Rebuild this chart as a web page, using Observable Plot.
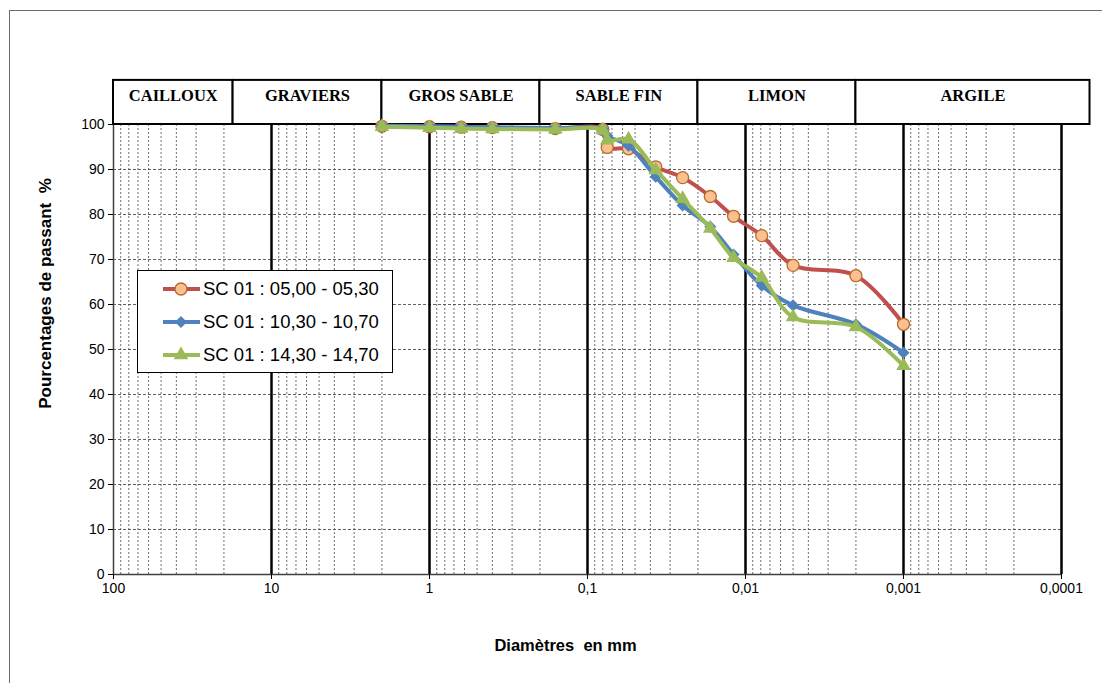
<!DOCTYPE html>
<html>
<head>
<meta charset="utf-8">
<script src="https://cdn.jsdelivr.net/npm/d3@7"></script>
<script src="https://cdn.jsdelivr.net/npm/@observablehq/plot@0.6"></script>
<style>
  body { margin: 0; background: #fff; }
  #wrap { position: relative; width: 1102px; height: 683px; overflow: hidden; background: #fff; }
  #frame { position: absolute; left: 9px; top: 10px; width: 1200px; height: 800px; border: 1px solid #6d6d6d; }
  #chart { position: absolute; left: 0; top: 0; }
  #legend { position: absolute; left: 137px; top: 270px; }
</style>
</head>
<body>
<div id="wrap">
  <div id="frame"></div>
  <div id="chart"></div>
  <div id="legend"></div>
</div>
<script>
// Grain diameters (mm): sieve sizes followed by sedimentometry readings
const diametersMm = [2, 1, 0.63, 0.4, 0.16, 0.08, 0.075, 0.055, 0.037, 0.025, 0.0167, 0.0119, 0.0079, 0.005, 0.002, 0.001];

// Percent passing for each sample depth
const seriesNames = ["SC 01 : 05,00 - 05,30", "SC 01 : 10,30 - 10,70", "SC 01 : 14,30 - 14,70"];
const passing0500 = [99.6, 99.5, 99.4, 99.3, 99.1, 98.9, 94.9, 94.6, 90.6, 88.2, 84.0, 79.6, 75.3, 68.7, 66.4, 55.6];
const passing1030 = [99.7, 99.6, 99.5, 99.4, 99.2, 99.0, 97.5, 95.3, 88.4, 82.0, 77.3, 71.1, 64.2, 59.8, 55.6, 49.3];
const passing1430 = [99.5, 99.3, 99.1, 99.0, 98.9, 98.8, 96.5, 96.7, 89.9, 83.5, 76.9, 70.4, 66.0, 57.2, 55.0, 46.4];

// Soil classes and their diameter limits (mm)
const classNames = ["CAILLOUX", "GRAVIERS", "GROS SABLE", "SABLE FIN", "LIMON", "ARGILE"];
const classLimits = [100, 17.5, 2, 0.2, 0.02, 0.002, 0.000066];

// Axis ticks
const xTickValues = [100, 10, 1, 0.1, 0.01, 0.001, 0.0001];
const yTickValues = [0, 10, 20, 30, 40, 50, 60, 70, 80, 90, 100];

const styles = [
  {line: "#C0504D", fill: "#FAC090", stroke: "#B8692B", symbol: "circle", r: 6},
  {line: "#4F81BD", fill: "#4F81BD", stroke: "#4F81BD", symbol: "diamond2", r: 4.6},
  {line: "#9BBB59", fill: "#9BBB59", stroke: "#9BBB59", symbol: "triangle", r: 4.6}
];
const passingSets = [passing0500, passing1030, passing1430];

const rows = passingSets.map((vals, i) => diametersMm.map((d, j) => ({d, p: vals[j], s: seriesNames[i]})));

const classes = classNames.map((name, i) => ({
  name, a: classLimits[i], b: classLimits[i + 1], mid: Math.sqrt(classLimits[i] * classLimits[i + 1])
}));

// Minor log gridlines: 2..9 within each decade
const minorTicks = [];
for (const dec of [10, 1, 0.1, 0.01, 0.001, 0.0001]) for (let k = 2; k <= 9; k++) minorTicks.push(+(k * dec).toPrecision(3));
const decadeLines = xTickValues.slice(1);

const HEADER_TOP = 109.8;
const HEADER_TEXT = 106.4;

const fmt = d => String(d).replace(".", ",");

const seriesMarks = rows.flatMap((data, i) => [
  Plot.line(data, {x: "d", y: "p", stroke: styles[i].line, strokeWidth: 4, curve: "catmull-rom", strokeLinejoin: "round", strokeLinecap: "round"}),
  Plot.dot(data, {x: "d", y: "p", symbol: () => styles[i].symbol, r: styles[i].r, fill: styles[i].fill, stroke: styles[i].stroke, strokeWidth: 1.3})
]);

const chart = Plot.plot({
  width: 1102,
  height: 683,
  marginLeft: 113,
  marginRight: 41,
  marginTop: 124,
  marginBottom: 109,
  style: {fontFamily: "'Liberation Sans', Arial, sans-serif", fontSize: "14px", color: "#000", background: "transparent", overflow: "visible"},
  x: {type: "log", domain: [100, 0.0001]},
  y: {domain: [0, 100]},
  marks: [
    Plot.ruleY(yTickValues.slice(1, -1), {stroke: "#3a3a3a", strokeWidth: 0.8, strokeDasharray: "3,2"}),
    Plot.ruleX(minorTicks, {y1: 0, y2: 100, stroke: "#4a4a4a", strokeWidth: 0.8, strokeDasharray: "2,2"}),
    Plot.ruleX(decadeLines, {y1: 0, y2: 100, stroke: "#000", strokeWidth: 2.5}),
    Plot.ruleX([100], {y1: 0, y2: 100, stroke: "#404040", strokeWidth: 1.5}),
    Plot.ruleY([0], {stroke: "#404040", strokeWidth: 1.5}),
    Plot.axisX({ticks: xTickValues, tickFormat: fmt, tickSize: 5, tickPadding: 4, label: null, fontSize: 14}),
    Plot.axisY({ticks: yTickValues, tickSize: 5, tickPadding: 4, label: null, fontSize: 14}),
    // soil class header
    Plot.rect(classes, {x1: "a", x2: "b", y1: 100, y2: HEADER_TOP, fill: "white", stroke: "#000", strokeWidth: 2}),
    Plot.text(classes, {x: "mid", y: HEADER_TEXT, text: "name", fontFamily: "'Liberation Serif', 'Times New Roman', serif", fontWeight: "bold", fontSize: 16.5, lineAnchor: "middle"}),
    ...seriesMarks,
    // axis titles
    Plot.text(["Pourcentages de passant  %"], {frameAnchor: "left", dx: -68, dy: -56, rotate: -90, textAnchor: "middle", fontWeight: "bold", fontSize: 17, lineAnchor: "middle"}),
    Plot.text(["Diamètres  en mm"], {frameAnchor: "bottom", dx: -22, dy: 71, textAnchor: "middle", fontWeight: "bold", fontSize: 16.5, lineAnchor: "middle"})
  ]
});
document.getElementById("chart").append(chart);

// Legend box
const lg = d3.select("#legend").append("svg").attr("width", 257).attr("height", 104);
lg.append("rect").attr("x", 0.5).attr("y", 0.5).attr("width", 255).attr("height", 102).attr("fill", "#fff").attr("stroke", "#000").attr("stroke-width", 1);
const symbolTypes = {circle: d3.symbolCircle, diamond2: d3.symbolDiamond2, triangle: d3.symbolTriangle};
seriesNames.forEach((name, i) => {
  const cy = 19 + i * 33;
  const st = styles[i];
  lg.append("line").attr("x1", 26).attr("x2", 63).attr("y1", cy).attr("y2", cy).attr("stroke", st.line).attr("stroke-width", 4);
  lg.append("path").attr("transform", `translate(44,${cy})`)
    .attr("d", d3.symbol(symbolTypes[st.symbol], Math.PI * st.r * st.r)())
    .attr("fill", st.fill).attr("stroke", st.stroke).attr("stroke-width", 1.3);
  lg.append("text").attr("x", 66).attr("y", cy).attr("dy", "0.35em")
    .attr("font-family", "'Liberation Sans', Arial, sans-serif").attr("font-size", 18.5).text(name);
});
</script>
</body>
</html>
